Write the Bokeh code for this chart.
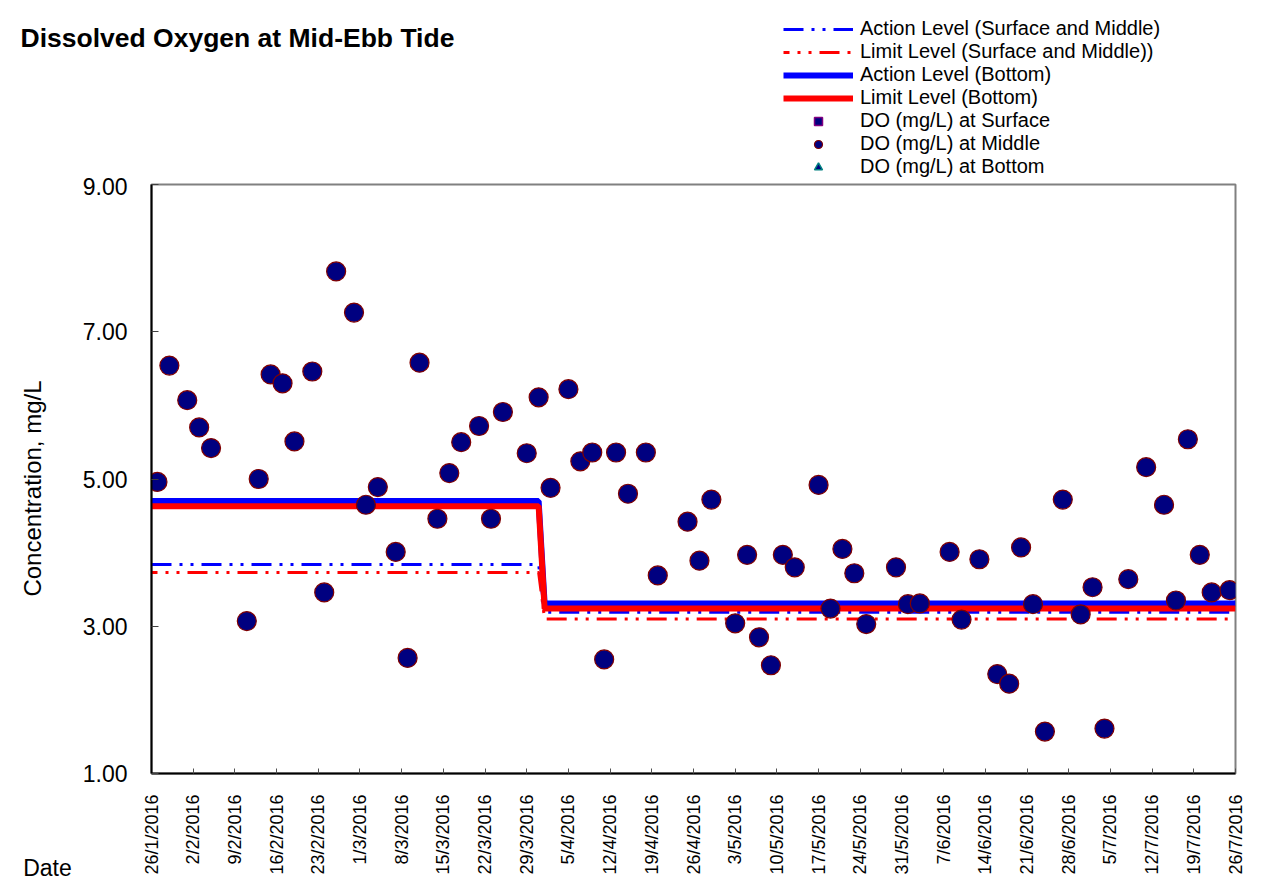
import math
from datetime import datetime

from bokeh.plotting import figure
from bokeh.layouts import column, row
from bokeh.models import (Range1d, FixedTicker, CustomJSTickFormatter, Label, Legend,
                          LegendItem, ColumnDataSource, NumeralTickFormatter, LinearAxis)
from bokeh.embed import file_html
from bokeh.resources import INLINE

# ---------------- data ----------------
title_text = "Dissolved Oxygen at Mid-Ebb Tide"
y_label = "Concentration, mg/L"
x_label = "Date"

tick_labels = ["26/1/2016", "2/2/2016", "9/2/2016", "16/2/2016", "23/2/2016", "1/3/2016",
               "8/3/2016", "15/3/2016", "22/3/2016", "29/3/2016", "5/4/2016", "12/4/2016",
               "19/4/2016", "26/4/2016", "3/5/2016", "10/5/2016", "17/5/2016", "24/5/2016",
               "31/5/2016", "7/6/2016", "14/6/2016", "21/6/2016", "28/6/2016", "5/7/2016",
               "12/7/2016", "19/7/2016", "26/7/2016"]
y_ticks = [1, 3, 5, 7, 9]

sample_dates = ["27/1/2016", "29/1/2016", "1/2/2016", "3/2/2016", "5/2/2016", "11/2/2016",
                "13/2/2016", "15/2/2016", "17/2/2016", "19/2/2016", "22/2/2016", "24/2/2016",
                "26/2/2016", "29/2/2016", "2/3/2016", "4/3/2016", "7/3/2016", "9/3/2016",
                "11/3/2016", "14/3/2016", "16/3/2016", "18/3/2016", "21/3/2016", "23/3/2016",
                "25/3/2016", "29/3/2016", "31/3/2016", "2/4/2016", "5/4/2016", "7/4/2016",
                "9/4/2016", "11/4/2016", "13/4/2016", "15/4/2016", "18/4/2016", "20/4/2016",
                "25/4/2016", "27/4/2016", "29/4/2016", "3/5/2016", "5/5/2016", "7/5/2016",
                "9/5/2016", "11/5/2016", "13/5/2016", "17/5/2016", "19/5/2016", "21/5/2016",
                "23/5/2016", "25/5/2016", "30/5/2016", "1/6/2016", "3/6/2016", "8/6/2016",
                "10/6/2016", "13/6/2016", "16/6/2016", "18/6/2016", "20/6/2016", "22/6/2016",
                "24/6/2016", "27/6/2016", "30/6/2016", "2/7/2016", "4/7/2016", "8/7/2016",
                "11/7/2016", "14/7/2016", "16/7/2016", "18/7/2016", "20/7/2016", "22/7/2016",
                "25/7/2016"]
do_middle = [4.96, 6.54, 6.07, 5.70, 5.42, 3.07,
             5.00, 6.42, 6.30, 5.51, 6.46, 3.46,
             7.82, 7.26, 4.65, 4.89, 4.01, 2.57,
             6.58, 4.46, 5.08, 5.50, 5.72, 4.46,
             5.91, 5.35, 6.11, 4.88, 6.22, 5.24,
             5.36, 2.55, 5.36, 4.80, 5.36, 3.69,
             4.42, 3.89, 4.72, 3.04, 3.97, 2.85,
             2.47, 3.97, 3.80, 4.92, 3.24, 4.05,
             3.72, 3.03, 3.80, 3.30, 3.31, 4.01,
             3.09, 3.91, 2.35, 2.22, 4.07, 3.30,
             1.57, 4.72, 3.16, 3.53, 1.61, 3.64,
             5.16, 4.65, 3.35, 5.54, 3.97, 3.46,
             3.49]
# surface / bottom readings are hidden behind the middle markers in the reference
do_surface = []
do_bottom = []

level_dates = ["26/1/2016", "31/3/2016", "1/4/2016", "26/7/2016"]
action_sm = [3.84, 3.84, 3.19, 3.19]
limit_sm = [3.73, 3.73, 3.10, 3.10]
action_bottom = [4.70, 4.70, 3.31, 3.31]
limit_bottom = [4.63, 4.63, 3.24, 3.24]

legend_labels = ["Action Level (Surface and Middle)", "Limit Level (Surface and Middle))",
                 "Action Level (Bottom)", "Limit Level (Bottom)",
                 "DO (mg/L) at Surface", "DO (mg/L) at Middle", "DO (mg/L) at Bottom"]

# ---------------- helpers ----------------
def to_dt(s):
    return datetime.strptime(s, "%d/%m/%Y")

def to_ms(d):
    if isinstance(d, str):
        d = to_dt(d)
    return (d - datetime(1970, 1, 1)).total_seconds() * 1000.0

FONT = "Liberation Sans"
BLACK = "#000000"

# styles shared by the plotted series and their legend swatches
STY_A_SM = dict(line_color="#0000FF", line_width=3, line_dash="20 8 3 8 3 8")
STY_L_SM = dict(line_color="#FF0000", line_width=3, line_dash="20 8 3 8 3 8", line_dash_offset=14)
STY_A_B = dict(line_color="#0000FF", line_width=6)
STY_L_B = dict(line_color="#FF0000", line_width=6)
STY_S = dict(marker="square", size=12, fill_color="#000080", line_color="#800080", line_width=1.5)
STY_M = dict(marker="circle", size=19, fill_color="#000080", line_color="#800000", line_width=1.2)
STY_B = dict(marker="triangle", size=13, fill_color="#000080", line_color="#008080", line_width=1.5)

W = 1251
HH = 177            # header height (title + legend)
WS = 76             # side strip (y label + "Date")
HM = 706            # main height


def bare(fig):
    fig.xgrid.visible = False
    fig.ygrid.visible = False
    fig.outline_line_color = None
    fig.min_border_left = fig.min_border_right = fig.min_border_top = fig.min_border_bottom = 0
    return fig


# ---------------- header: title + legend ----------------
header = bare(figure(width=W, height=HH, output_backend="svg", toolbar_location=None,
                     x_axis_location=None, y_axis_location=None,
                     x_range=Range1d(0, 1), y_range=Range1d(0, 1)))
NA = [float("nan")]   # swatch-only renderers: nothing is drawn in the header frame
h_a_sm = header.line(NA, NA, **STY_A_SM)
h_l_sm = header.line(NA, NA, **STY_L_SM)
h_a_b = header.line(NA, NA, **STY_A_B)
h_l_b = header.line(NA, NA, **STY_L_B)
h_s = header.scatter(NA, NA, **STY_S)
h_m = header.scatter(NA, NA, **STY_M)
h_b = header.scatter(NA, NA, **STY_B)
legend = Legend(items=[LegendItem(label=t, renderers=[r]) for t, r in
                       zip(legend_labels, [h_a_sm, h_l_sm, h_a_b, h_l_b, h_s, h_m, h_b])],
                location=(783, -1), orientation="vertical", glyph_width=70, glyph_height=20,
                label_height=20, spacing=0, label_standoff=7, padding=0, margin=0,
                border_line_alpha=0, background_fill_alpha=0,
                label_text_font=FONT, label_text_font_size="20px", label_text_color=BLACK)
header.add_layout(legend)
header.add_layout(Label(x=20, y=HH - 37, x_units="screen", y_units="screen", text=title_text,
                        text_font=FONT, text_font_size="26.5px", text_font_style="bold",
                        text_color=BLACK, text_baseline="alphabetic", text_align="left"))

# ---------------- side strip: y label + "Date" ----------------
side = bare(figure(width=WS, height=HM, output_backend="svg", toolbar_location=None,
                   x_axis_location=None, y_axis_location=None,
                   x_range=Range1d(0, WS), y_range=Range1d(0, 1)))
side.add_layout(Label(x=32, y=285, x_units="screen", y_units="screen", text=y_label,
                      angle=math.pi / 2, text_font=FONT, text_font_size="24px",
                      text_color=BLACK, text_baseline="middle", text_align="center"))
date_axis = LinearAxis(ticker=FixedTicker(ticks=[47], minor_ticks=[]),
                       formatter=CustomJSTickFormatter(args=dict(lbl=x_label), code="return lbl;"),
                       axis_line_color=None, major_tick_line_color=None, minor_tick_line_color=None,
                       major_label_standoff=75, major_label_orientation="horizontal",
                       major_label_text_font=FONT, major_label_text_font_size="23px",
                       major_label_text_color=BLACK)
side.add_layout(date_axis, "below")

# ---------------- main plot ----------------
p = figure(width=W - WS, height=HM, x_axis_type="datetime",
           output_backend="svg", toolbar_location=None,
           x_range=Range1d(to_ms(tick_labels[0]), to_ms(tick_labels[-1])),
           y_range=Range1d(y_ticks[0], y_ticks[-1]),
           min_border_left=75, min_border_right=16, min_border_top=7, min_border_bottom=107)
p.xgrid.visible = False
p.ygrid.visible = False
p.outline_line_color = "#808080"
p.outline_line_width = 2

lvl_x = [to_dt(d) for d in level_dates]
p.line(lvl_x, action_sm, **STY_A_SM)
p.line(lvl_x, limit_sm, **STY_L_SM)
p.line(lvl_x, action_bottom, **STY_A_B)
p.line(lvl_x, limit_bottom, **STY_L_B)

src_s = ColumnDataSource(dict(x=[to_dt(d) for d in sample_dates[:len(do_surface)]], y=do_surface))
src_m = ColumnDataSource(dict(x=[to_dt(d) for d in sample_dates], y=do_middle))
src_b = ColumnDataSource(dict(x=[to_dt(d) for d in sample_dates[:len(do_bottom)]], y=do_bottom))
p.scatter("x", "y", source=src_s, **STY_S)
p.scatter("x", "y", source=src_b, **STY_B)
p.scatter("x", "y", source=src_m, **STY_M)

p.yaxis.ticker = FixedTicker(ticks=y_ticks, minor_ticks=[])
p.yaxis.formatter = NumeralTickFormatter(format="0.00")
p.yaxis.major_label_text_font = FONT
p.yaxis.major_label_text_font_size = "23px"
p.yaxis.major_label_text_color = BLACK
p.yaxis.major_tick_in = 7
p.yaxis.major_tick_out = 0
p.yaxis.major_label_standoff = 24
p.yaxis.axis_line_width = 2
p.yaxis.axis_line_color = BLACK
p.yaxis.major_tick_line_color = "#404040"

p.xaxis.ticker = FixedTicker(ticks=[to_ms(t) for t in tick_labels], minor_ticks=[])
p.xaxis.formatter = CustomJSTickFormatter(code="""
const d = new Date(tick);
return d.getUTCDate() + "/" + (d.getUTCMonth() + 1) + "/" + d.getUTCFullYear();
""")
p.xaxis.major_label_orientation = math.pi / 2
p.xaxis.major_label_text_font = FONT
p.xaxis.major_label_text_font_size = "18px"
p.xaxis.major_label_text_color = BLACK
p.xaxis.major_tick_in = 5
p.xaxis.major_tick_out = 0
p.xaxis.major_label_standoff = 21
p.xaxis.axis_line_width = 2
p.xaxis.axis_line_color = BLACK
p.xaxis.major_tick_line_color = "#505050"

layout = column(header, row(side, p, spacing=0), spacing=0)
open("out.html", "w").write(file_html(layout, INLINE))
